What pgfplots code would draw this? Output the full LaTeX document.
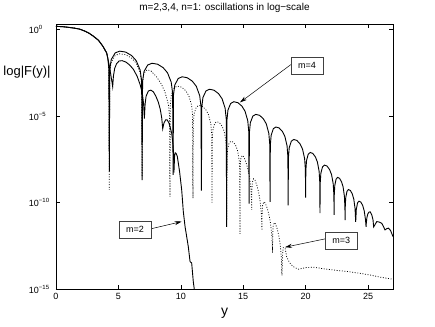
\documentclass[border=0pt]{standalone}
\usepackage{fontspec}
\setmainfont{Liberation Sans}
\usepackage{pgfplots}
\pgfplotsset{compat=1.18}
\usetikzlibrary{arrows.meta}

% y values are log10|F(y)|, drawn on a linear axis with 10^k labels
\newcommand{\tenp}[1]{10\textsuperscript{#1}}

\begin{document}
\begin{tikzpicture}
\begin{axis}[
    scale only axis,
    width=337pt, height=265pt,
    xmin=0, xmax=27,
    ymin=-15, ymax=0.3,
    xtick={0,5,10,15,20,25},
    ytick={-15,-10,-5,0},
    yticklabels={\tenp{−15},\tenp{−10},\tenp{−5},\tenp{0}},
    tick pos=both,
    xticklabel pos=lower, yticklabel pos=left,
    tick align=inside,
    major tick length=4pt,
    every tick/.style={black, line width=0.5pt},
    axis line style={line width=0.6pt},
    tick label style={font=\fontsize{9}{10}\selectfont},
    yticklabel style={text width=23.5pt, align=left},
    /pgf/number format/assume math mode=true,
    clip mode=individual,
    title={m=2,3,4, n=1: oscillations in log−scale},
    title style={at={(axis description cs:0.5,1.031)}, anchor=base, yshift=0pt,
                 font=\fontsize{10}{12}\selectfont},
    xlabel={y},
    xlabel style={at={(axis description cs:0.5,-0.10)}, anchor=base,
                  font=\fontsize{14}{16}\selectfont},
    ylabel={log|F(y)|},
    ylabel style={rotate=-90, at={(axis description cs:-0.086,0.82)}, anchor=center,
                  font=\fontsize{13}{15}\selectfont},
]

% m=3 (dotted)
\addplot[black, line width=0.75pt, dash pattern=on 0.9pt off 1.7pt] coordinates {
(0,0.18)(0.5,0.165)(1.0,0.125)(1.5,0.075)(1.9,0.02)(2.3,-0.09)(2.68,-0.23)(3.0,-0.39)
(3.4,-0.62)(3.74,-0.95)(3.9,-1.15)(4.06,-1.35)(4.16,-1.7)(4.23,-2.4)(4.27,-9.26)
(4.309,-2.45)(4.428,-1.88)(4.743,-1.50)(5.112,-1.40)(5.585,-1.455)(6.058,-1.655)(6.427,-1.95)(6.742,-2.49)(6.861,-3.12)(6.9,-8.5)
(6.933,-3.05)(7.034,-2.54)(7.301,-2.32)(7.614,-2.40)(8.015,-2.69)(8.416,-3.12)(8.729,-3.60)(8.996,-4.30)(9.097,-4.99)(9.13,-9.65)
(9.158,-4.32)(9.24,-3.75)(9.461,-3.37)(9.719,-3.27)(10.05,-3.325)(10.381,-3.525)(10.639,-3.82)(10.86,-4.36)(10.942,-4.99)(10.97,-9.74)
(10.993,-5.43)(11.062,-4.86)(11.245,-4.48)(11.46,-4.38)(11.735,-4.435)(12.01,-4.635)(12.225,-4.93)(12.408,-5.47)(12.477,-6.10)(12.5,-9.99)
(12.518,-6.37)(12.571,-5.80)(12.712,-5.42)(12.878,-5.32)(13.09,-5.375)(13.302,-5.575)(13.468,-5.87)(13.609,-6.41)(13.662,-7.04)(13.68,-11.0)
(13.696,-7.50)(13.744,-6.93)(13.871,-6.55)(14.019,-6.45)(14.21,-6.505)(14.401,-6.705)(14.549,-7.00)(14.676,-7.54)(14.724,-8.17)(14.74,-11.8)
(14.754,-8.00)(14.796,-7.49)(14.909,-7.27)(15.041,-7.35)(15.21,-7.64)(15.379,-8.07)(15.511,-8.55)(15.624,-9.25)(15.666,-9.94)(15.68,-10.42)
(15.692,-9.35)(15.729,-8.84)(15.828,-8.62)(15.942,-8.70)(16.09,-8.99)(16.238,-9.42)(16.352,-9.90)(16.451,-10.60)(16.488,-11.29)(16.5,-11.6)
(16.513,-10.68)(16.551,-10.17)(16.653,-9.95)(16.772,-10.03)(16.925,-10.32)(17.078,-10.75)(17.197,-11.23)(17.299,-11.93)(17.337,-12.62)(17.35,-12.9)
(17.361,-11.88)(17.395,-11.37)(17.485,-11.15)(17.59,-11.23)(17.725,-11.52)(17.86,-11.95)(17.965,-12.43)(18.055,-13.13)(18.089,-13.82)(18.1,-14.2)
(18.15,-13.0)(18.21,-12.6)(18.35,-12.6)(18.48,-13.12)(18.7,-13.45)(19.0,-13.69)(19.41,-13.84)(20.0,-13.75)(20.6,-13.72)
(21.5,-13.82)(22.4,-13.9)(23.4,-13.98)(24.3,-14.07)(25.2,-14.18)(26.0,-14.3)(26.8,-14.4)(27.0,-14.42)
};

% m=2 (solid)
\addplot[black, line width=0.9pt] coordinates {
(0,0.18)(0.5,0.165)(1.0,0.125)(1.5,0.075)(1.9,0.02)(2.3,-0.09)(2.68,-0.23)(3.0,-0.39)
(3.4,-0.62)(3.74,-0.95)(3.9,-1.15)(4.06,-1.35)(4.16,-1.7)(4.3,-2.2)(4.42,-2.75)(4.5,-3.1)(4.54,-3.3)
(4.6,-2.7)(4.7,-2.25)(4.85,-1.98)(5.05,-1.82)(5.3,-1.8)(5.6,-1.88)(5.9,-2.05)(6.2,-2.3)(6.5,-2.7)
(6.75,-3.2)(6.92,-3.7)(7.02,-4.3)(7.08,-5.14)(7.14,-4.3)(7.22,-3.85)(7.4,-3.55)(7.6,-3.5)(7.8,-3.6)
(8.0,-3.85)(8.2,-4.2)(8.35,-4.6)(8.47,-5.1)(8.55,-5.73)(8.65,-5.4)(8.78,-5.22)(8.9,-5.21)(9.05,-5.4)
(9.17,-5.7)(9.27,-6.0)(9.37,-6.6)(9.42,-7.2)(9.45,-8.26)(9.5,-7.3)(9.55,-7.12)(9.62,-7.15)(9.72,-7.33)
(9.9,-8.2)(10.07,-9.26)(10.2,-10.51)(10.34,-11.38)(10.6,-12.54)(10.74,-13.4)(10.87,-13.48)(11.0,-14.56)
(11.08,-15.0)(11.12,-15.6)
};

% m=4 (solid)
\addplot[black, line width=0.9pt] coordinates {
(0,0.18)(0.5,0.165)(1.0,0.125)(1.5,0.075)(1.9,0.02)(2.3,-0.09)(2.68,-0.23)(3.0,-0.39)
(3.4,-0.62)(3.74,-0.95)(3.9,-1.15)(4.06,-1.35)(4.16,-1.7)(4.23,-2.2)(4.27,-8.2)
(4.309,-2.30)(4.428,-1.73)(4.743,-1.35)(5.112,-1.25)(5.585,-1.305)(6.058,-1.505)(6.427,-1.80)(6.742,-2.34)(6.861,-2.97)(6.9,-8.7)
(6.937,-3.00)(7.049,-2.43)(7.346,-2.05)(7.694,-1.95)(8.14,-2.005)(8.586,-2.205)(8.934,-2.50)(9.231,-3.04)(9.343,-3.67)(9.38,-8.4)
(9.414,-3.78)(9.516,-3.21)(9.789,-2.83)(10.106,-2.73)(10.515,-2.785)(10.924,-2.985)(11.241,-3.28)(11.514,-3.82)(11.616,-4.45)(11.65,-9.3)
(11.68,-4.50)(11.771,-3.93)(12.014,-3.55)(12.296,-3.45)(12.66,-3.505)(13.024,-3.705)(13.306,-4.00)(13.549,-4.54)(13.64,-5.17)(13.67,-11.4)
(13.697,-5.22)(13.778,-4.65)(13.994,-4.27)(14.246,-4.17)(14.57,-4.225)(14.894,-4.425)(15.146,-4.72)(15.362,-5.26)(15.443,-5.89)(15.47,-10.05)
(15.495,-5.95)(15.571,-5.38)(15.772,-5.00)(16.008,-4.90)(16.31,-4.955)(16.612,-5.155)(16.848,-5.45)(17.049,-5.99)(17.125,-6.62)(17.15,-9.95)
(17.172,-6.68)(17.237,-6.11)(17.411,-5.73)(17.614,-5.63)(17.875,-5.685)(18.136,-5.885)(18.339,-6.18)(18.513,-6.72)(18.578,-7.35)(18.6,-10.15)
(18.621,-7.40)(18.684,-6.83)(18.852,-6.45)(19.048,-6.35)(19.3,-6.405)(19.552,-6.605)(19.748,-6.90)(19.916,-7.44)(19.979,-8.07)(20.0,-9.7)
(20.017,-8.15)(20.069,-7.58)(20.207,-7.20)(20.368,-7.10)(20.575,-7.155)(20.782,-7.355)(20.943,-7.65)(21.081,-8.19)(21.133,-8.82)(21.15,-10.6)
(21.167,-8.88)(21.218,-8.31)(21.353,-7.93)(21.512,-7.83)(21.715,-7.885)(21.918,-8.085)(22.077,-8.38)(22.212,-8.92)(22.263,-9.55)(22.28,-10.7)
(22.293,-9.59)(22.333,-9.02)(22.438,-8.64)(22.562,-8.54)(22.72,-8.595)(22.878,-8.795)(23.002,-9.09)(23.107,-9.63)(23.147,-10.26)(23.16,-11.0)
(23.173,-10.29)(23.211,-9.72)(23.313,-9.34)(23.432,-9.24)(23.585,-9.295)(23.738,-9.495)(23.857,-9.79)(23.959,-10.33)(23.997,-10.9)(24.01,-11.1)
(24.022,-10.96)(24.06,-10.39)(24.159,-10.01)(24.276,-9.91)(24.425,-9.965)(24.574,-10.165)(24.691,-10.46)(24.79,-10.95)(24.828,-11.25)(24.84,-11.4)
(24.86,-11.2)(24.9,-10.9)(24.98,-10.65)(25.08,-10.54)(25.18,-10.53)(25.3,-10.7)(25.4,-11.0)(25.45,-11.4)
(25.7,-11.09)(25.9,-11.12)(26.1,-11.19)(26.25,-11.4)(26.36,-11.57)(26.5,-11.5)(26.63,-11.47)(26.8,-11.6)(27.0,-11.96)
};

% annotations
\tikzset{lbl/.style={draw=black!75, fill=white, line width=0.5pt, minimum width=32pt,
                     minimum height=17pt, inner sep=0pt, font=\fontsize{9}{10}\selectfont},
         arr/.style={-{Stealth[length=7pt,width=4pt]}, line width=0.5pt}}
\draw[arr] (axis cs:18.81,-2.03) -- (axis cs:14.74,-4.21);
\node[lbl] at (axis cs:20.11,-2.08) {m=4};
\draw[arr] (axis cs:7.59,-11.51) -- (axis cs:10.07,-11.09);
\node[lbl] at (axis cs:6.32,-11.54) {m=2};
\draw[arr] (axis cs:21.55,-12.09) -- (axis cs:18.35,-12.57);
\node[lbl] at (axis cs:22.85,-12.17) {m=3};
\end{axis}
\pgfresetboundingbox
\path[use as bounding box] (current axis.south west) ++(-56pt,-36.7pt) rectangle ++(435pt,326pt);
\end{tikzpicture}
\end{document}
